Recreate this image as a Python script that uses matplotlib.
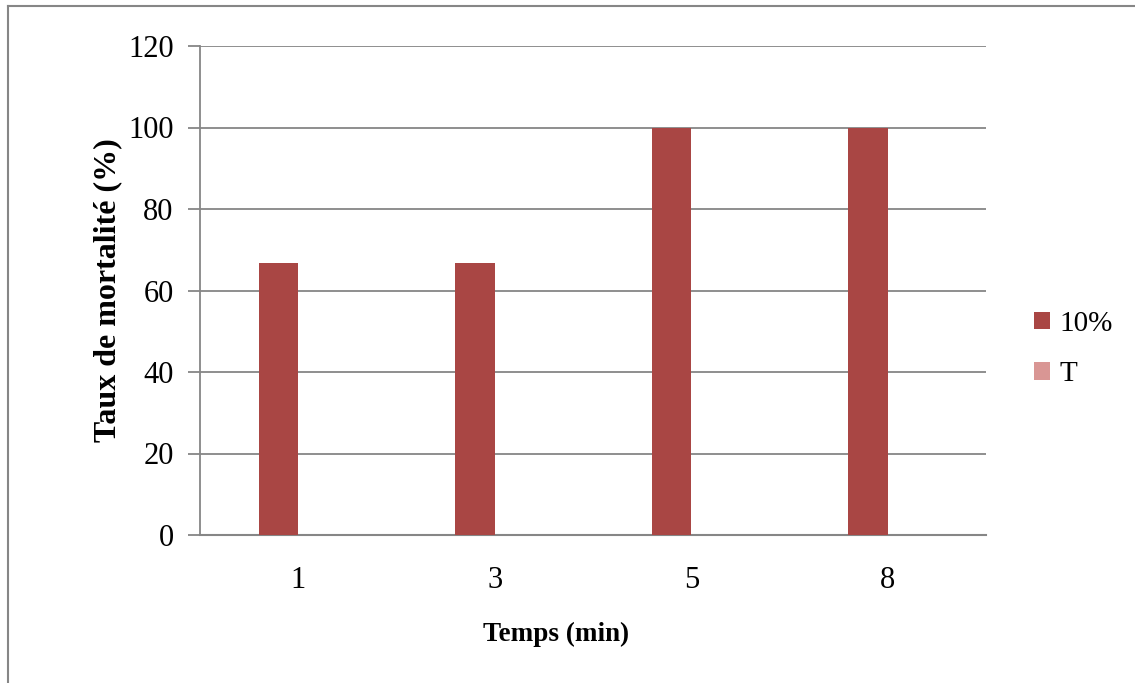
import matplotlib.pyplot as plt
import numpy as np
from matplotlib.lines import Line2D

plt.rcParams['font.family'] = ['Liberation Serif', 'DejaVu Serif']

temps = ['1', '3', '5', '8']
serie_10 = [66.7, 66.7, 100, 100]
serie_t = [0, 0, 0, 0]
y_ticks = [0, 20, 40, 60, 80, 100, 120]

fig = plt.figure(figsize=(11.35, 6.83), dpi=100)
ax = fig.add_axes([200 / 1135, 1 - 535 / 683, 786 / 1135, 489 / 683])

x = np.arange(len(temps))
w = 0.2
ax.bar(x - w / 2, serie_10, width=w, color='#A94644', label='10%', zorder=3)
ax.bar(x + w / 2, serie_t, width=w, color='#D99694', label='T', zorder=3)

ax.set_xlim(-0.5, len(temps) - 0.5)
ax.set_ylim(0, 120)
ax.set_yticks(y_ticks)
ax.set_xticks(x)
ax.set_xticklabels(temps)
ax.tick_params(axis='y', length=9, width=1.3, color='#868686', labelsize=22, pad=10)
ax.tick_params(axis='x', length=0, labelsize=22, pad=22)
ax.grid(axis='y', color='#868686', linewidth=1.3, zorder=0)
for s in ['top', 'right']:
    ax.spines[s].set_visible(False)
ax.spines['left'].set_color('#868686')
ax.spines['bottom'].set_color('#868686')
ax.spines['left'].set_linewidth(1.3)
ax.spines['bottom'].set_linewidth(1.5)

ax.set_ylabel('Taux de mortalité (%)', fontsize=23, fontweight='bold', labelpad=4)
ax.set_xlabel('Temps (min)', fontsize=19.5, fontweight='bold', va='center')
ax.xaxis.set_label_coords(0.453, -0.2025)

fig.legend(loc='center left', bbox_to_anchor=(1034 / 1135, 1 - 349 / 683),
           frameon=False, fontsize=21, handlelength=0.55, handleheight=0.55,
           handletextpad=0.31, labelspacing=0.84, borderpad=0, borderaxespad=0)

# cadre du graphique
fig.add_artist(Line2D([8 / 1135, 8 / 1135], [0, 1 - 6 / 683], color='#868686', linewidth=1.5))
fig.add_artist(Line2D([8 / 1135, 1], [1 - 6 / 683, 1 - 6 / 683], color='#868686', linewidth=1.5))

fig.savefig('out.png', dpi=100)
